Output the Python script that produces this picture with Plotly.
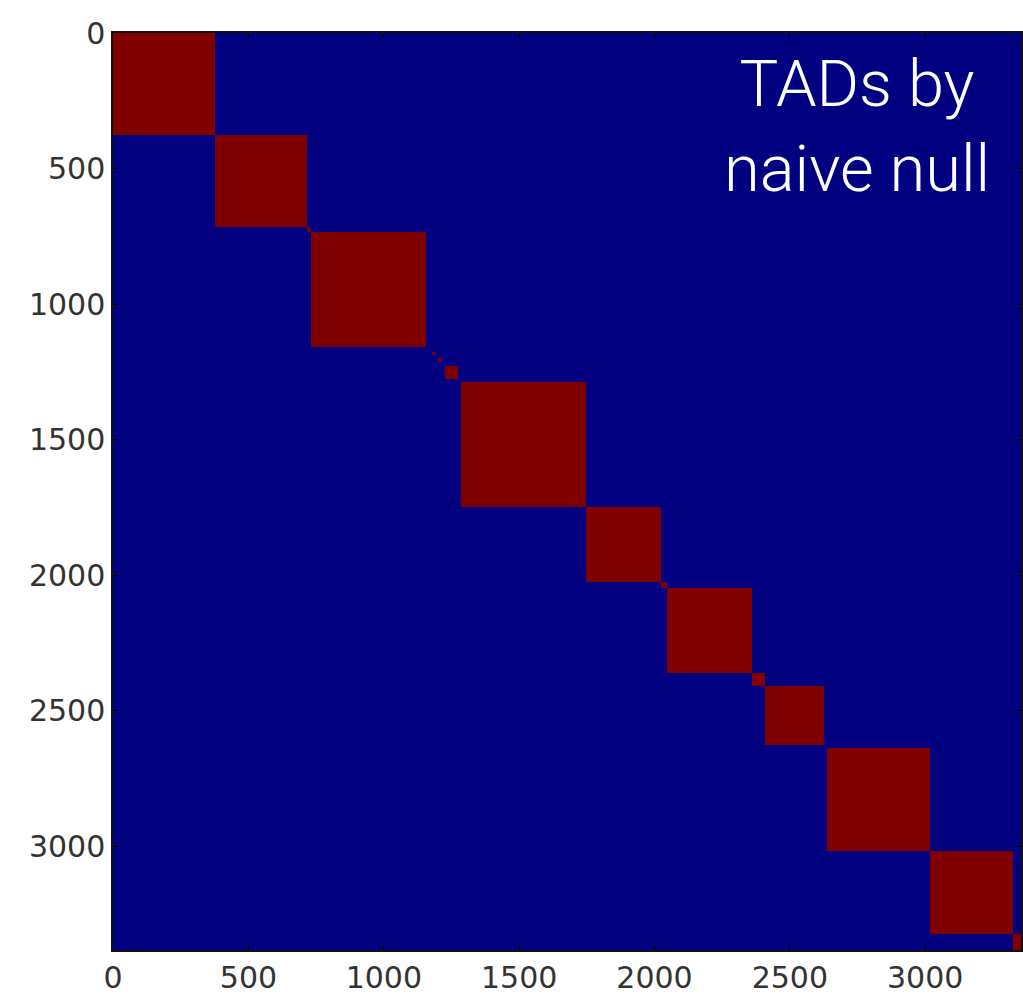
import plotly.graph_objects as go

# Segment boundaries along the diagonal (bin units) and whether each segment is a TAD
boundaries = [0, 376, 715, 733, 1157, 1178, 1188, 1199, 1214, 1228, 1276, 1287,
              1748, 2026, 2047, 2362, 2408, 2627, 2637, 3020, 3324, 3384]
is_tad = [1, 1, 1, 1, 0, 1, 0, 1, 0, 1, 0, 1,
          1, 1, 1, 1, 1, 0, 1, 1, 1]
tick_vals = [0, 500, 1000, 1500, 2000, 2500, 3000]
tick_text = ["0", "500", "1000", "1500", "2000", "2500", "3000"]
title_lines = ["TADs by", "naive null"]

edges = [b - 0.5 for b in boundaries]
k = len(is_tad)
z = [[(1 if (i == j and is_tad[i]) else 0) for j in range(k)] for i in range(k)]

fig = go.Figure(go.Heatmap(
    x=edges, y=edges, z=z,
    colorscale=[[0, "#000080"], [1, "#800000"]],
    zmin=0, zmax=1, showscale=False, hoverinfo="skip",
))

W, H = 1023, 995
L, T, B = 113, 33, 44
plot_h = H - T - B
px_per_unit = plot_h / 3384.0
x_max = -0.5 + (W - L) / px_per_unit

axis_common = dict(
    tickmode="array", tickvals=tick_vals, ticktext=tick_text,
    ticks="inside", ticklen=5, tickwidth=1, tickcolor="black",
    showline=True, linecolor="#111", linewidth=1.5, mirror="ticks",
    showgrid=False, zeroline=False,
    tickfont=dict(family="DejaVu Sans", size=30, color="#333333"),
)

fig.update_xaxes(range=[-0.5, x_max], **axis_common)
fig.update_yaxes(range=[3383.5, -0.5], **axis_common)

fig.add_annotation(
    x=(858 - L) / px_per_unit, y=(126 - T) / px_per_unit,
    xref="x", yref="y", text="<br>".join(title_lines), showarrow=False,
    font=dict(family="Roboto", size=65, color="white", weight=300),
    align="center", xanchor="center", yanchor="middle",
)

fig.update_layout(
    width=W, height=H,
    margin=dict(l=L, r=0, t=T, b=B),
    paper_bgcolor="white", plot_bgcolor="#000080",
)

fig.write_html("out.html")
